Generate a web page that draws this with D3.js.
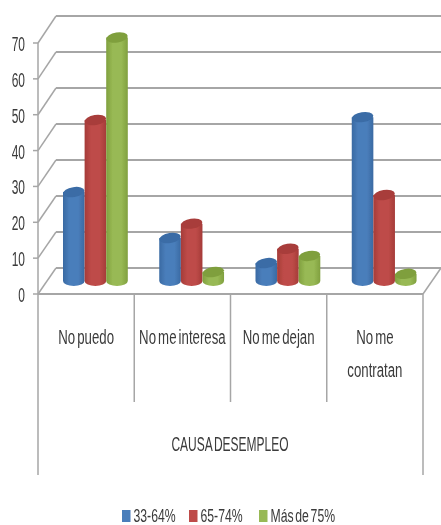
<!DOCTYPE html>
<html><head><meta charset="utf-8">
<script src="https://cdn.jsdelivr.net/npm/d3@7/dist/d3.min.js"></script>
<style>html,body{margin:0;padding:0;background:#fff}svg{display:block}</style>
</head><body><div id="c"></div>
<script>
const categories = ["No puedo", "No me interesa", "No me dejan", "No me contratan"];
const seriesNames = ["33-64%", "65-74%", "Más de 75%"];
const s1 = [24.8, 12, 5, 45.7];
const s2 = [44.9, 16, 9, 24];
const s3 = [67.9, 2.5, 7, 2];
const ticks = [0, 10, 20, 30, 40, 50, 60, 70];
const colors = ["#4a7ebb", "#be4b48", "#98b954"];
const darkTop = ["#3a6ca6", "#a83d3a", "#7f9f3e"];
const edge = ["#3a6aa3", "#a53c39", "#80a03f"];
const series = [s1, s2, s3];

const W = 441, H = 525;
const svg = d3.select("#c").append("svg").attr("width", W).attr("height", H);
const defs = svg.append("defs");
defs.append("filter").attr("id", "soft").append("feGaussianBlur").attr("stdDeviation", 0.6);
colors.forEach((c, i) => {
  const g = defs.append("linearGradient").attr("id", "g" + i);
  g.append("stop").attr("offset", "0").attr("stop-color", edge[i]);
  g.append("stop").attr("offset", "0.3").attr("stop-color", c);
  g.append("stop").attr("offset", "0.7").attr("stop-color", c);
  g.append("stop").attr("offset", "1").attr("stop-color", edge[i]);
});
const root = svg.append("g").attr("filter", "url(#soft)");

const yFront = d3.scaleLinear().domain([0, 70]).range([294, 43]);
const yBack = d3.scaleLinear().domain([0, 70]).range([268, 16]);
const yMid = d3.scaleLinear().domain([0, 70]).range([281, 30]);
const xFront = d3.scaleBand().domain(categories).range([38, 423]);
const depth = 18;
const grid = "#a6a6a6";

ticks.forEach(t => {
  root.append("line").attr("x1", 38 + depth).attr("x2", W).attr("y1", yBack(t)).attr("y2", yBack(t))
    .attr("stroke", grid).attr("stroke-width", 2);
  root.append("line").attr("x1", 38).attr("x2", 38 + depth).attr("y1", yFront(t)).attr("y2", yBack(t))
    .attr("stroke", grid).attr("stroke-width", 1.5);
  root.append("line").attr("x1", 33).attr("x2", 38).attr("y1", yFront(t)).attr("y2", yFront(t))
    .attr("stroke", grid).attr("stroke-width", 1.5);
});
root.append("line").attr("x1", 38).attr("x2", 423).attr("y1", yFront(0)).attr("y2", yFront(0)).attr("stroke", grid).attr("stroke-width", 2);
root.append("line").attr("x1", 423).attr("x2", 423 + depth).attr("y1", yFront(0)).attr("y2", yBack(0)).attr("stroke", grid).attr("stroke-width", 1.5);
root.append("line").attr("x1", 38).attr("x2", 38).attr("y1", yFront(70)).attr("y2", 475).attr("stroke", grid).attr("stroke-width", 1.5);
root.append("line").attr("x1", 423).attr("x2", 423).attr("y1", yFront(0)).attr("y2", 475).attr("stroke", grid).attr("stroke-width", 1.5);
categories.slice(1).forEach(c => {
  root.append("line").attr("x1", xFront(c)).attr("x2", xFront(c)).attr("y1", yFront(0)).attr("y2", 402).attr("stroke", grid).attr("stroke-width", 1.5);
});

const barW = 21.6, ry = 5;
categories.forEach((c, ci) => {
  const cx0 = xFront(c) + 25;
  series.forEach((vals, si) => {
    const x = cx0 + si * barW, top = yMid(vals[ci]), bot = yMid(0);
    const rx = barW / 2, mx = x + rx;
    root.append("path")
      .attr("d", `M${x},${top}L${x},${bot}A${rx},${ry} 0 0 0 ${x + barW},${bot}L${x + barW},${top}Z`)
      .attr("fill", `url(#g${si})`);
    root.append("ellipse").attr("cx", mx).attr("cy", top).attr("rx", rx).attr("ry", ry)
      .attr("transform", `rotate(-9 ${mx} ${top})`).attr("fill", darkTop[si]);
  });
});

function label(txt, x, y, size, sx, anchor) {
  return root.append("text").attr("transform", `translate(${x},${y}) scale(${sx},1)`)
    .attr("text-anchor", anchor || "middle").attr("font-family", "Liberation Sans")
    .attr("font-size", size).attr("fill", "#3a3a3a").attr("word-spacing", "-2.5px").text(txt);
}
ticks.forEach(t => label(String(t), 25, yFront(t) + 8, 21, 0.57, "end"));
const wrapped = [["No puedo"], ["No me interesa"], ["No me dejan"], ["No me", "contratan"]];
categories.forEach((c, i) => {
  wrapped[i].forEach((ln, j) => label(ln, xFront(c) + xFront.bandwidth() / 2, 344 + j * 33, 21, 0.63));
});
label("CAUSA DESEMPLEO", 230, 451, 20, 0.6);

const legendX = [122, 189, 259];
seriesNames.forEach((n, i) => {
  root.append("rect").attr("x", legendX[i]).attr("y", 510).attr("width", 8.5).attr("height", 12).attr("fill", colors[i]);
  label(n, legendX[i] + 11.5, 522, 18, 0.68, "start");
});
</script></body></html>
